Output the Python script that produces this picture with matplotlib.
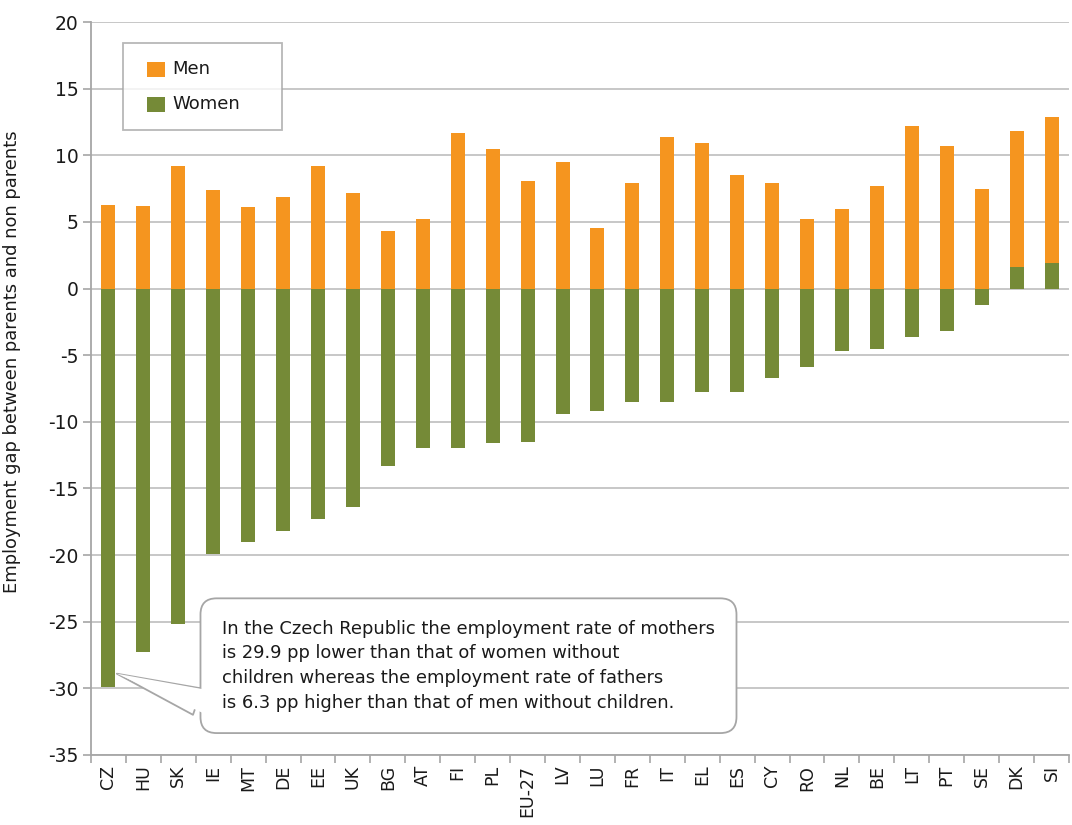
import matplotlib
matplotlib.use("Agg")
import matplotlib.pyplot as plt
from matplotlib.patches import FancyArrowPatch, Rectangle
from matplotlib.legend_handler import HandlerPatch
from matplotlib.container import BarContainer
import numpy as np

plt.rcParams['font.family'] = ['DejaVu Sans']
plt.rcParams['axes.unicode_minus'] = False

countries = ["CZ", "HU", "SK", "IE", "MT", "DE", "EE", "UK", "BG", "AT", "FI", "PL",
             "EU-27", "LV", "LU", "FR", "IT", "EL", "ES", "CY", "RO", "NL", "BE", "LT",
             "PT", "SE", "DK", "SI"]
men = [6.3, 6.2, 9.2, 7.4, 6.1, 6.9, 9.2, 7.2, 4.3, 5.2, 11.7, 10.5,
       8.1, 9.5, 4.55, 7.95, 11.35, 10.9, 8.55, 7.95, 5.2, 6.0, 7.7, 12.2,
       10.7, 7.5, 11.8, 12.9]
women = [-29.9, -27.3, -25.2, -19.9, -19.0, -18.2, -17.3, -16.4, -13.3, -12.0, -12.0, -11.6,
         -11.5, -9.4, -9.2, -8.55, -8.55, -7.8, -7.8, -6.7, -5.9, -4.7, -4.55, -3.6,
         -3.2, -1.2, 1.6, 1.9]
yticks = list(range(-35, 21, 5))

ylabel = "Employment gap between parents and non parents"
note = ("In the Czech Republic the employment rate of mothers\n"
        "is 29.9 pp lower than that of women without\n"
        "children whereas the employment rate of fathers\n"
        "is 6.3 pp higher than that of men without children.")

ORANGE = "#F5951F"
GREEN = "#758A37"
GRID = "#C3C3C3"
AXC = "#A6A6A6"
TXT = "#1A1A1A"

fig = plt.figure(figsize=(10.72, 8.25), dpi=100)
ax = fig.add_axes([91/1072, 1 - 755/825, (1069-91)/1072, (755-22)/825])

x = np.arange(len(countries))
ax.bar(x, men, width=0.40, color=ORANGE, label="Men", zorder=3)
ax.bar(x, women, width=0.40, color=GREEN, label="Women", zorder=3)

ax.set_xlim(-0.5, len(countries) - 0.5)
ax.set_ylim(-35, 20)
ax.set_yticks(yticks)
ax.yaxis.grid(True, color=GRID, linewidth=1.3, zorder=0)
ax.set_axisbelow(True)

for s in ["top", "right"]:
    ax.spines[s].set_visible(False)
for s in ["left", "bottom"]:
    ax.spines[s].set_color(AXC)
    ax.spines[s].set_linewidth(1.3)

ax.tick_params(axis='y', length=6, width=1.2, color=AXC, labelsize=13.5, labelcolor=TXT, pad=3)
ax.set_xticks(x)
ax.set_xticklabels(countries, rotation=90)
ax.set_xticks(np.arange(-0.5, len(countries), 1.0), minor=True)
ax.tick_params(axis='x', which='major', length=0, labelsize=12.5, labelcolor=TXT, pad=7)
ax.tick_params(axis='x', which='minor', length=6, width=1.2, color=AXC)

ax.set_ylabel(ylabel, fontsize=12.9, color=TXT)
ax.yaxis.set_label_coords(-0.072, 0.536)


def right_patch(legend, orig_handle, xdescent, ydescent, width, height, fontsize):
    w = 13.0
    return Rectangle((-xdescent + width - w, -ydescent - 1.6), w, height + 0.8)


def first_child(legend_handle, orig_handle):
    legend_handle.update_from(orig_handle.patches[0])


leg = ax.legend(loc='upper left', bbox_to_anchor=(0.0327, 0.8558, 0.163, 0.116),
                mode='expand', fancybox=False, fontsize=13, frameon=True,
                handlelength=1.4, handleheight=0.78, handletextpad=0.4,
                labelspacing=0.95, borderpad=0.95, borderaxespad=0,
                handler_map={BarContainer: HandlerPatch(patch_func=right_patch,
                                                        update_func=first_child)})
leg.get_frame().set_edgecolor(AXC)
leg.get_frame().set_linewidth(1.3)
for t in leg.get_texts():
    t.set_color(TXT)

# callout
xy_tip = (0.24, -28.9)
xy_base = (2.55, -31.0)
w1 = FancyArrowPatch(posA=xy_base, posB=xy_tip, arrowstyle='wedge,tail_width=1.0',
                     mutation_scale=20, fc='white', ec=AXC, lw=1.3, zorder=5,
                     shrinkA=0, shrinkB=0)
ax.add_patch(w1)
ax.text(3.25, -28.3, note, fontsize=12.9, color=TXT, ha='left', va='center',
        linespacing=1.47, zorder=6,
        bbox=dict(boxstyle='round,pad=1.2,rounding_size=0.9', fc='white', ec=AXC, lw=1.3))
w2 = FancyArrowPatch(posA=(2.8, -31.0), posB=xy_tip, arrowstyle='wedge,tail_width=0.85',
                     mutation_scale=20, fc='white', ec='none', lw=0, zorder=7,
                     shrinkA=0, shrinkB=0)
ax.add_patch(w2)

fig.savefig("out.png", dpi=100)
